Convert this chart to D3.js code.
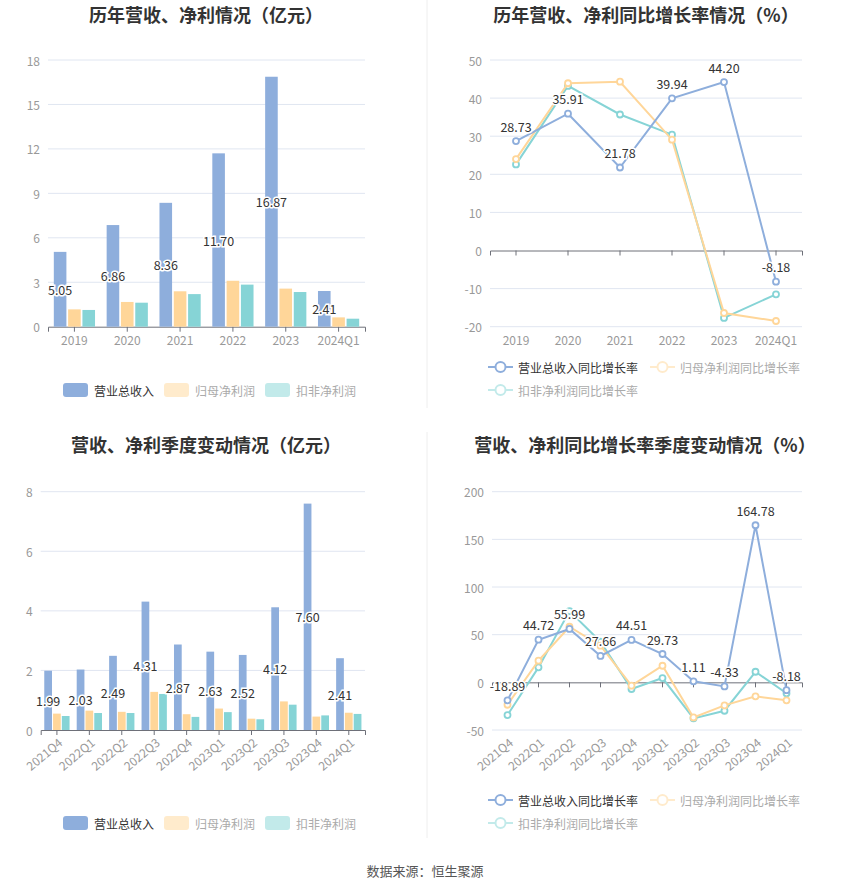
<!DOCTYPE html>
<html>
<head>
<meta charset="utf-8">
<script src="https://cdn.jsdelivr.net/npm/d3@7"></script>
<style>
  body { margin: 0; background: #fff; }
  svg { font-family: "Noto Sans CJK SC", "Noto Sans", sans-serif; }
</style>
</head>
<body>
<div id="root"></div>
<script>
// Data
const years = ['2019', '2020', '2021', '2022', '2023', '2024Q1'];
const yearRevenue = [5.05, 6.86, 8.36, 11.70, 16.87, 2.41];
const yearNetProfit = [1.17, 1.67, 2.39, 3.10, 2.57, 0.63];
const yearDeducted = [1.13, 1.62, 2.20, 2.84, 2.34, 0.54];
const yearRevenueGrowth = [28.73, 35.91, 21.78, 39.94, 44.20, -8.18];
const yearNetProfitGrowth = [24.0, 43.9, 44.3, 29.1, -16.4, -18.5];
const yearDeductedGrowth = [22.6, 43.2, 35.7, 30.4, -17.7, -11.5];

const quarters = ['2021Q4', '2022Q1', '2022Q2', '2022Q3', '2022Q4', '2023Q1', '2023Q2', '2023Q3', '2023Q4', '2024Q1'];
const quarterRevenue = [1.99, 2.03, 2.49, 4.31, 2.87, 2.63, 2.52, 4.12, 7.60, 2.41];
const quarterNetProfit = [0.55, 0.65, 0.61, 1.28, 0.53, 0.72, 0.38, 0.96, 0.45, 0.58];
const quarterDeducted = [0.47, 0.57, 0.57, 1.21, 0.44, 0.60, 0.36, 0.85, 0.49, 0.54];
const quarterRevenueGrowth = [-18.89, 44.72, 55.99, 27.66, 44.51, 29.73, 1.11, -4.33, 164.78, -8.18];
const quarterNetProfitGrowth = [-23.5, 22.7, 58.3, 38.5, -3.5, 17.4, -36.8, -24.2, -14.7, -18.9];
const quarterDeductedGrowth = [-34.3, 15.7, 74.8, 42.6, -7.0, 4.5, -37.8, -29.8, 11.1, -11.5];

const yearBarTicks = [0, 3, 6, 9, 12, 15, 18];
const yearLineTicks = [-20, -10, 0, 10, 20, 30, 40, 50];
const quarterBarTicks = [0, 2, 4, 6, 8];
const quarterLineTicks = [-50, 0, 50, 100, 150, 200];

const barNames = ['营业总收入', '归母净利润', '扣非净利润'];
const lineNames = ['营业总收入同比增长率', '归母净利润同比增长率', '扣非净利润同比增长率'];

// Styles
const colors = ['#8eaedc', '#ffd699', '#86d4d6'];
const paleColors = ['#8eaedc', '#ffebcc', '#c2eaea'];
const gridColor = '#e0e6f1';
const axisColor = '#6e7079';
const labelColor = '#999';

const svg = d3.select('#root')
  .append('svg:svg')
  .attr('width', 850)
  .attr('height', 890);

// Panel dividers
svg.append('line').attr('x1', 427).attr('x2', 427).attr('y1', 0).attr('y2', 408)
  .attr('stroke', '#eee');
svg.append('line').attr('x1', 427).attr('x2', 427).attr('y1', 432).attr('y2', 838)
  .attr('stroke', '#eee');

/**
 * Draw a title centred at x
 */
function title(text, x, y) {
  svg.append('text')
    .attr('x', x)
    .attr('y', y)
    .attr('text-anchor', 'middle')
    .attr('dominant-baseline', 'central')
    .style('font-size', '18px')
    .style('font-weight', 'bold')
    .attr('fill', '#333')
    .text(text);
}

/**
 * Draw gridlines, y labels and x labels for one panel
 */
function axes(g, x, y, ticks, cats, rotate) {
  const [x0, x1] = x.range();
  const [yb, yt] = y.range();

  g.append('g')
    .selectAll('line')
    .data(ticks.filter(t => t !== 0))
    .enter()
      .append('line')
      .attr('x1', x0).attr('x2', x1)
      .attr('y1', d => y(d)).attr('y2', d => y(d))
      .attr('stroke', gridColor);

  g.append('g')
    .selectAll('text')
    .data(ticks)
    .enter()
      .append('text')
      .attr('x', x0 - 8)
      .attr('y', d => y(d))
      .attr('text-anchor', 'end')
      .attr('dominant-baseline', 'central')
      .attr('fill', labelColor)
      .style('font-size', '12px')
      .text(d => d);

  // zero axis with ticks at category centres
  const axis = g.append('g')
    .attr('transform', `translate(0,${y(0)})`)
    .call(d3.axisBottom(x).tickSize(5).tickFormat(''));
  axis.select('.domain').attr('stroke', axisColor);
  axis.selectAll('.tick line').attr('stroke', axisColor);

  const labels = g.append('g')
    .selectAll('text')
    .data(cats)
    .enter()
      .append('text')
      .attr('fill', labelColor)
      .style('font-size', '12px')
      .text(d => d);

  if (rotate) {
    labels
      .attr('text-anchor', 'end')
      .attr('dominant-baseline', 'central')
      .attr('transform', d => `translate(${x(d) + x.bandwidth() / 2 + 3},${yb + 10}) rotate(-40)`);
  } else {
    labels
      .attr('x', d => x(d) + x.bandwidth() / 2)
      .attr('y', yb + 13)
      .attr('text-anchor', 'middle')
      .attr('dominant-baseline', 'central');
  }
}

/**
 * Draw one bar panel
 */
function barChart(cats, series, ticks, xRange, yRange, rotate) {
  const g = svg.append('g');
  const x = d3.scaleBand().domain(cats).range(xRange);
  const y = d3.scaleLinear().domain([ticks[0], ticks[ticks.length - 1]]).range(yRange);
  const bw = x.bandwidth();
  const inner = d3.scaleBand()
    .domain(d3.range(series.length))
    .range([bw * 0.11, bw * 0.89])
    .paddingInner(0.12);

  axes(g, x, y, ticks, cats, rotate);

  series.forEach((values, si) => {
    g.append('g')
      .selectAll('rect')
      .data(values)
      .enter()
        .append('rect')
        .attr('x', (d, i) => x(cats[i]) + inner(si))
        .attr('width', inner.bandwidth())
        .attr('y', d => y(d))
        .attr('height', d => y(0) - y(d))
        .attr('fill', colors[si]);
  });

  // value labels in the middle of the revenue bars
  g.append('g')
    .selectAll('text')
    .data(series[0])
    .enter()
      .append('text')
      .attr('x', (d, i) => x(cats[i]) + inner(0) + inner.bandwidth() / 2)
      .attr('y', d => (y(d) + y(0)) / 2)
      .attr('text-anchor', 'middle')
      .attr('dominant-baseline', 'central')
      .attr('fill', '#333')
      .attr('stroke', '#fff')
      .attr('stroke-width', 3)
      .attr('paint-order', 'stroke')
      .style('font-size', '12.5px')
      .text(d => d.toFixed(2));
}

/**
 * Draw one line panel
 */
function lineChart(cats, series, ticks, xRange, yRange, rotate) {
  const g = svg.append('g');
  const x = d3.scaleBand().domain(cats).range(xRange);
  const y = d3.scaleLinear().domain([ticks[0], ticks[ticks.length - 1]]).range(yRange);
  const cx = (d, i) => x(cats[i]) + x.bandwidth() / 2;

  axes(g, x, y, ticks, cats, rotate);

  const line = d3.line().x(cx).y(d => y(d));

  // draw later series first so revenue sits on top
  [2, 1, 0].forEach(si => {
    g.append('path')
      .datum(series[si])
      .attr('d', line)
      .attr('fill', 'none')
      .attr('stroke', colors[si])
      .attr('stroke-width', 2);

    g.append('g')
      .selectAll('circle')
      .data(series[si])
      .enter()
        .append('circle')
        .attr('cx', cx)
        .attr('cy', d => y(d))
        .attr('r', 3)
        .attr('fill', '#fff')
        .attr('stroke', colors[si])
        .attr('stroke-width', 1.8);
  });

  g.append('g')
    .selectAll('text')
    .data(series[0])
    .enter()
      .append('text')
      .attr('x', cx)
      .attr('y', d => y(d) - 15)
      .attr('text-anchor', 'middle')
      .attr('dominant-baseline', 'central')
      .attr('fill', '#333')
      .attr('stroke', '#fff')
      .attr('stroke-width', 3)
      .attr('paint-order', 'stroke')
      .style('font-size', '12.5px')
      .text(d => d.toFixed(2));
}

/**
 * Legend with square swatches
 */
function barLegend(y) {
  const xs = [63, 164, 265];
  barNames.forEach((name, i) => {
    svg.append('rect')
      .attr('x', xs[i]).attr('y', y - 7)
      .attr('width', 25).attr('height', 14)
      .attr('rx', 3)
      .attr('fill', paleColors[i]);
    svg.append('text')
      .attr('x', xs[i] + 31).attr('y', y)
      .attr('dominant-baseline', 'central')
      .attr('fill', i === 0 ? '#333' : '#aaa')
      .style('font-size', '12px')
      .text(name);
  });
}

/**
 * Legend with line + hollow circle icons
 */
function lineLegend(y) {
  const pos = [[488, y], [650, y], [488, y + 23]];
  lineNames.forEach((name, i) => {
    const [lx, ly] = pos[i];
    svg.append('line')
      .attr('x1', lx).attr('x2', lx + 25)
      .attr('y1', ly).attr('y2', ly)
      .attr('stroke', paleColors[i])
      .attr('stroke-width', 2);
    svg.append('circle')
      .attr('cx', lx + 12.5).attr('cy', ly)
      .attr('r', 5)
      .attr('fill', '#fff')
      .attr('stroke', paleColors[i])
      .attr('stroke-width', 2);
    svg.append('text')
      .attr('x', lx + 30).attr('y', ly)
      .attr('dominant-baseline', 'central')
      .attr('fill', i === 0 ? '#333' : '#aaa')
      .style('font-size', '12px')
      .text(name);
  });
}

// Top row
title('历年营收、净利情况（亿元）', 206, 14);
title('历年营收、净利同比增长率情况（%）', 646, 14);
barChart(years, [yearRevenue, yearNetProfit, yearDeducted], yearBarTicks, [48, 365], [326.7, 60], false);
lineChart(years, [yearRevenueGrowth, yearNetProfitGrowth, yearDeductedGrowth], yearLineTicks, [490, 802], [326.7, 60], false);
barLegend(390);
lineLegend(367);

// Bottom row
title('营收、净利季度变动情况（亿元）', 206, 444);
title('营收、净利同比增长率季度变动情况（%）', 645, 444);
barChart(quarters, [quarterRevenue, quarterNetProfit, quarterDeducted], quarterBarTicks, [40.7, 365], [730, 491.7], true);
lineChart(quarters, [quarterRevenueGrowth, quarterNetProfitGrowth, quarterDeductedGrowth], quarterLineTicks, [492, 802], [730, 491.7], true);
barLegend(823);
lineLegend(800);

// Source
svg.append('text')
  .attr('x', 425).attr('y', 870)
  .attr('text-anchor', 'middle')
  .attr('dominant-baseline', 'central')
  .attr('fill', '#555')
  .style('font-size', '13px')
  .text('数据来源：恒生聚源');
</script>
</body>
</html>
